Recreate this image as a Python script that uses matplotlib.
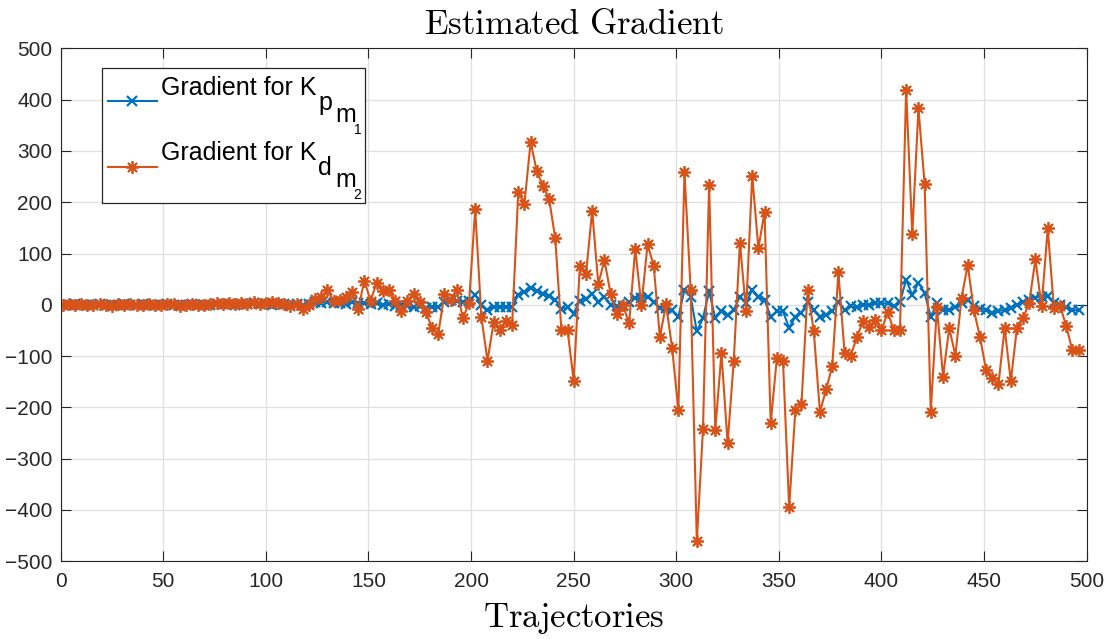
import numpy as np
import matplotlib
matplotlib.use('Agg')
import matplotlib.pyplot as plt
from matplotlib.lines import Line2D
from matplotlib.patches import Rectangle

# gradient estimates, one every 3 trajectories (1, 4, 7, ..., 496)
grad_kp = [0, 0, 1, 0, -1, 0, 1, 0, 0, -1, 1, 0, 0, 1, -1, 0, 0, 1, 0, -1,
           0, 1, 0, 0, -1, 1, 2, 1, 0, 2, 1, 3, 1, 2, 0, 1, 2, 0, 1,
           0, 2, 5, 4, 6, 3, 4, 2, 5, 3, 4, 2, 3, 0, 2, -2, 0, -3, -5, -2,
           -6, -4, -5, 5, 10, 8, 5, 8, 20, 0, -10, -4, -4, -4, -4, 19, 25, 32,
           27, 22, 18, 10, -8, -5, -17, 8, 12, 21, 6, 16, 0, -2, -2, 5, 13, 13,
           16, 5, -6, -6, -10, -23, 29, 16, -52, -26, 26, -26, -13, -19, -10, 16,
           3, 29, 16, 10, -23, -13, -13, -45, -23, -16, 6, -10, -23, -20, -13, 6,
           -10, -3, -5, 0, 0, 3, 3, 3, -3, 5, 49, 19, 43, 23, -23, 3, -10, -10,
           -5, 3, 10, -3, -8, -10, -16, -12, -10, -6, 0, 5, 10, 14, 16, 17, 3, 0,
           -5, -10, -10]

grad_kd = [0, 1, -1, 2, 0, -1, 1, 0, -2, 1, 0, 2, -1, 0, 1, -1, 0, 2, 1, -2,
           0, 1, -1, 0, 2, 3, 1, 4, 2, 3, 1, 5, 2, 4, 6, 3, 2, -3, 1,
           -8, 0, 11, 15, 28, 8, 10, 15, 24, -8, 47, 8, 43, 26, 28, 8, -13, 8,
           21, 6, -15, -45, -57, 21, 10, 29, -26, 3, 186, -23, -109, -34, -49,
           -31, -40, 220, 197, 317, 261, 232, 207, 130, -49, -49, -148, 76, 60,
           183, 41, 87, 21, -17, -1, -36, 109, -1, 118, 76, -63, 1, -85, -206,
           258, 29, -461, -243, 233, -244, -94, -270, -109, 121, -12, 252, 110,
           181, -231, -104, -110, -395, -206, -194, 29, -52, -209, -165, -120, 63,
           -93, -99, -63, -32, -43, -29, -50, -14, -50, -50, 419, 138, 383, 236,
           -208, -5, -140, -45, -99, 13, 78, -10, -63, -128, -142, -155, -45,
           -149, -45, -26, 4, 89, -3, 149, -6, -2, -41, -89, -89]

# legend label pieces: base text + subscript, sub-subscript, index
leg_base = 'Gradient for K'
leg_subs = [('p', 'm', '1'), ('d', 'm', '2')]

assert len(grad_kp) == len(grad_kd)
traj = 1 + 3 * np.arange(len(grad_kd))

plt.rcParams['font.family'] = ['Liberation Sans', 'DejaVu Sans']
plt.rcParams['mathtext.fontset'] = 'cm'

fig = plt.figure(figsize=(11.09, 6.39), dpi=100)
ax = fig.add_axes([0.0547, 0.1216, 0.9252, 0.8028])

blue = '#0072BD'
orange = '#D95319'
styles = [dict(color=blue, marker='x', ms=7, mew=1.6),
          dict(color=orange, marker=(8, 2, 0), ms=9, mew=1.3)]
ax.plot(traj, grad_kp, lw=1.5, **styles[0])
ax.plot(traj, grad_kd, lw=1.5, **styles[1])

ax.set_xlim(0, 500)
ax.set_ylim(-500, 500)
ax.set_xticks(np.arange(0, 501, 50))
ax.set_yticks(np.arange(-500, 501, 100))
ax.tick_params(direction='in', labelsize=15, colors='#262626', length=7,
               top=True, right=True)
ax.tick_params(axis='y', pad=6)
ax.tick_params(axis='x', pad=8)
ax.grid(True, color='#dfdfdf', lw=0.9)
ax.set_axisbelow(True)
for s in ax.spines.values():
    s.set_color('#262626')
    s.set_linewidth(0.8)

ax.set_title(r'$\mathrm{Estimated\ Gradient}$', fontsize=25, pad=10)
ax.set_xlabel(r'$\mathrm{Trajectories}$', fontsize=25, labelpad=7)

# legend drawn by hand so the nested subscripts can stay full size (MATLAB look)
ax.add_patch(Rectangle((0.04, 0.698), 0.2566, 0.263, transform=ax.transAxes,
                       facecolor='white', edgecolor='#262626', lw=0.9,
                       zorder=5, clip_on=False))
rows_y = [0.8979, 0.7692]
text_y = [0.9090, 0.7823]
for i in range(2):
    ax.add_line(Line2D([0.0461, 0.0700, 0.0939], [rows_y[i]] * 3, lw=1.5,
                       markevery=[1], transform=ax.transAxes, zorder=6,
                       clip_on=False, **styles[i]))
    t = ax.text(0.0975, text_y[i], leg_base, transform=ax.transAxes,
                fontsize=18, va='baseline', zorder=6)
    s1 = ax.annotate(leg_subs[i][0], xy=(1, 0), xycoords=t, xytext=(2, -15),
                     textcoords='offset pixels', fontsize=18, va='bottom', zorder=6)
    s2 = ax.annotate(leg_subs[i][1], xy=(1, 0), xycoords=s1, xytext=(3, -12),
                     textcoords='offset pixels', fontsize=18, va='bottom', zorder=6)
    ax.annotate(leg_subs[i][2], xy=(1, 0), xycoords=s2, xytext=(-2, -10),
                textcoords='offset pixels', fontsize=10, va='bottom', zorder=6)

fig.savefig('out.png', dpi=100)
